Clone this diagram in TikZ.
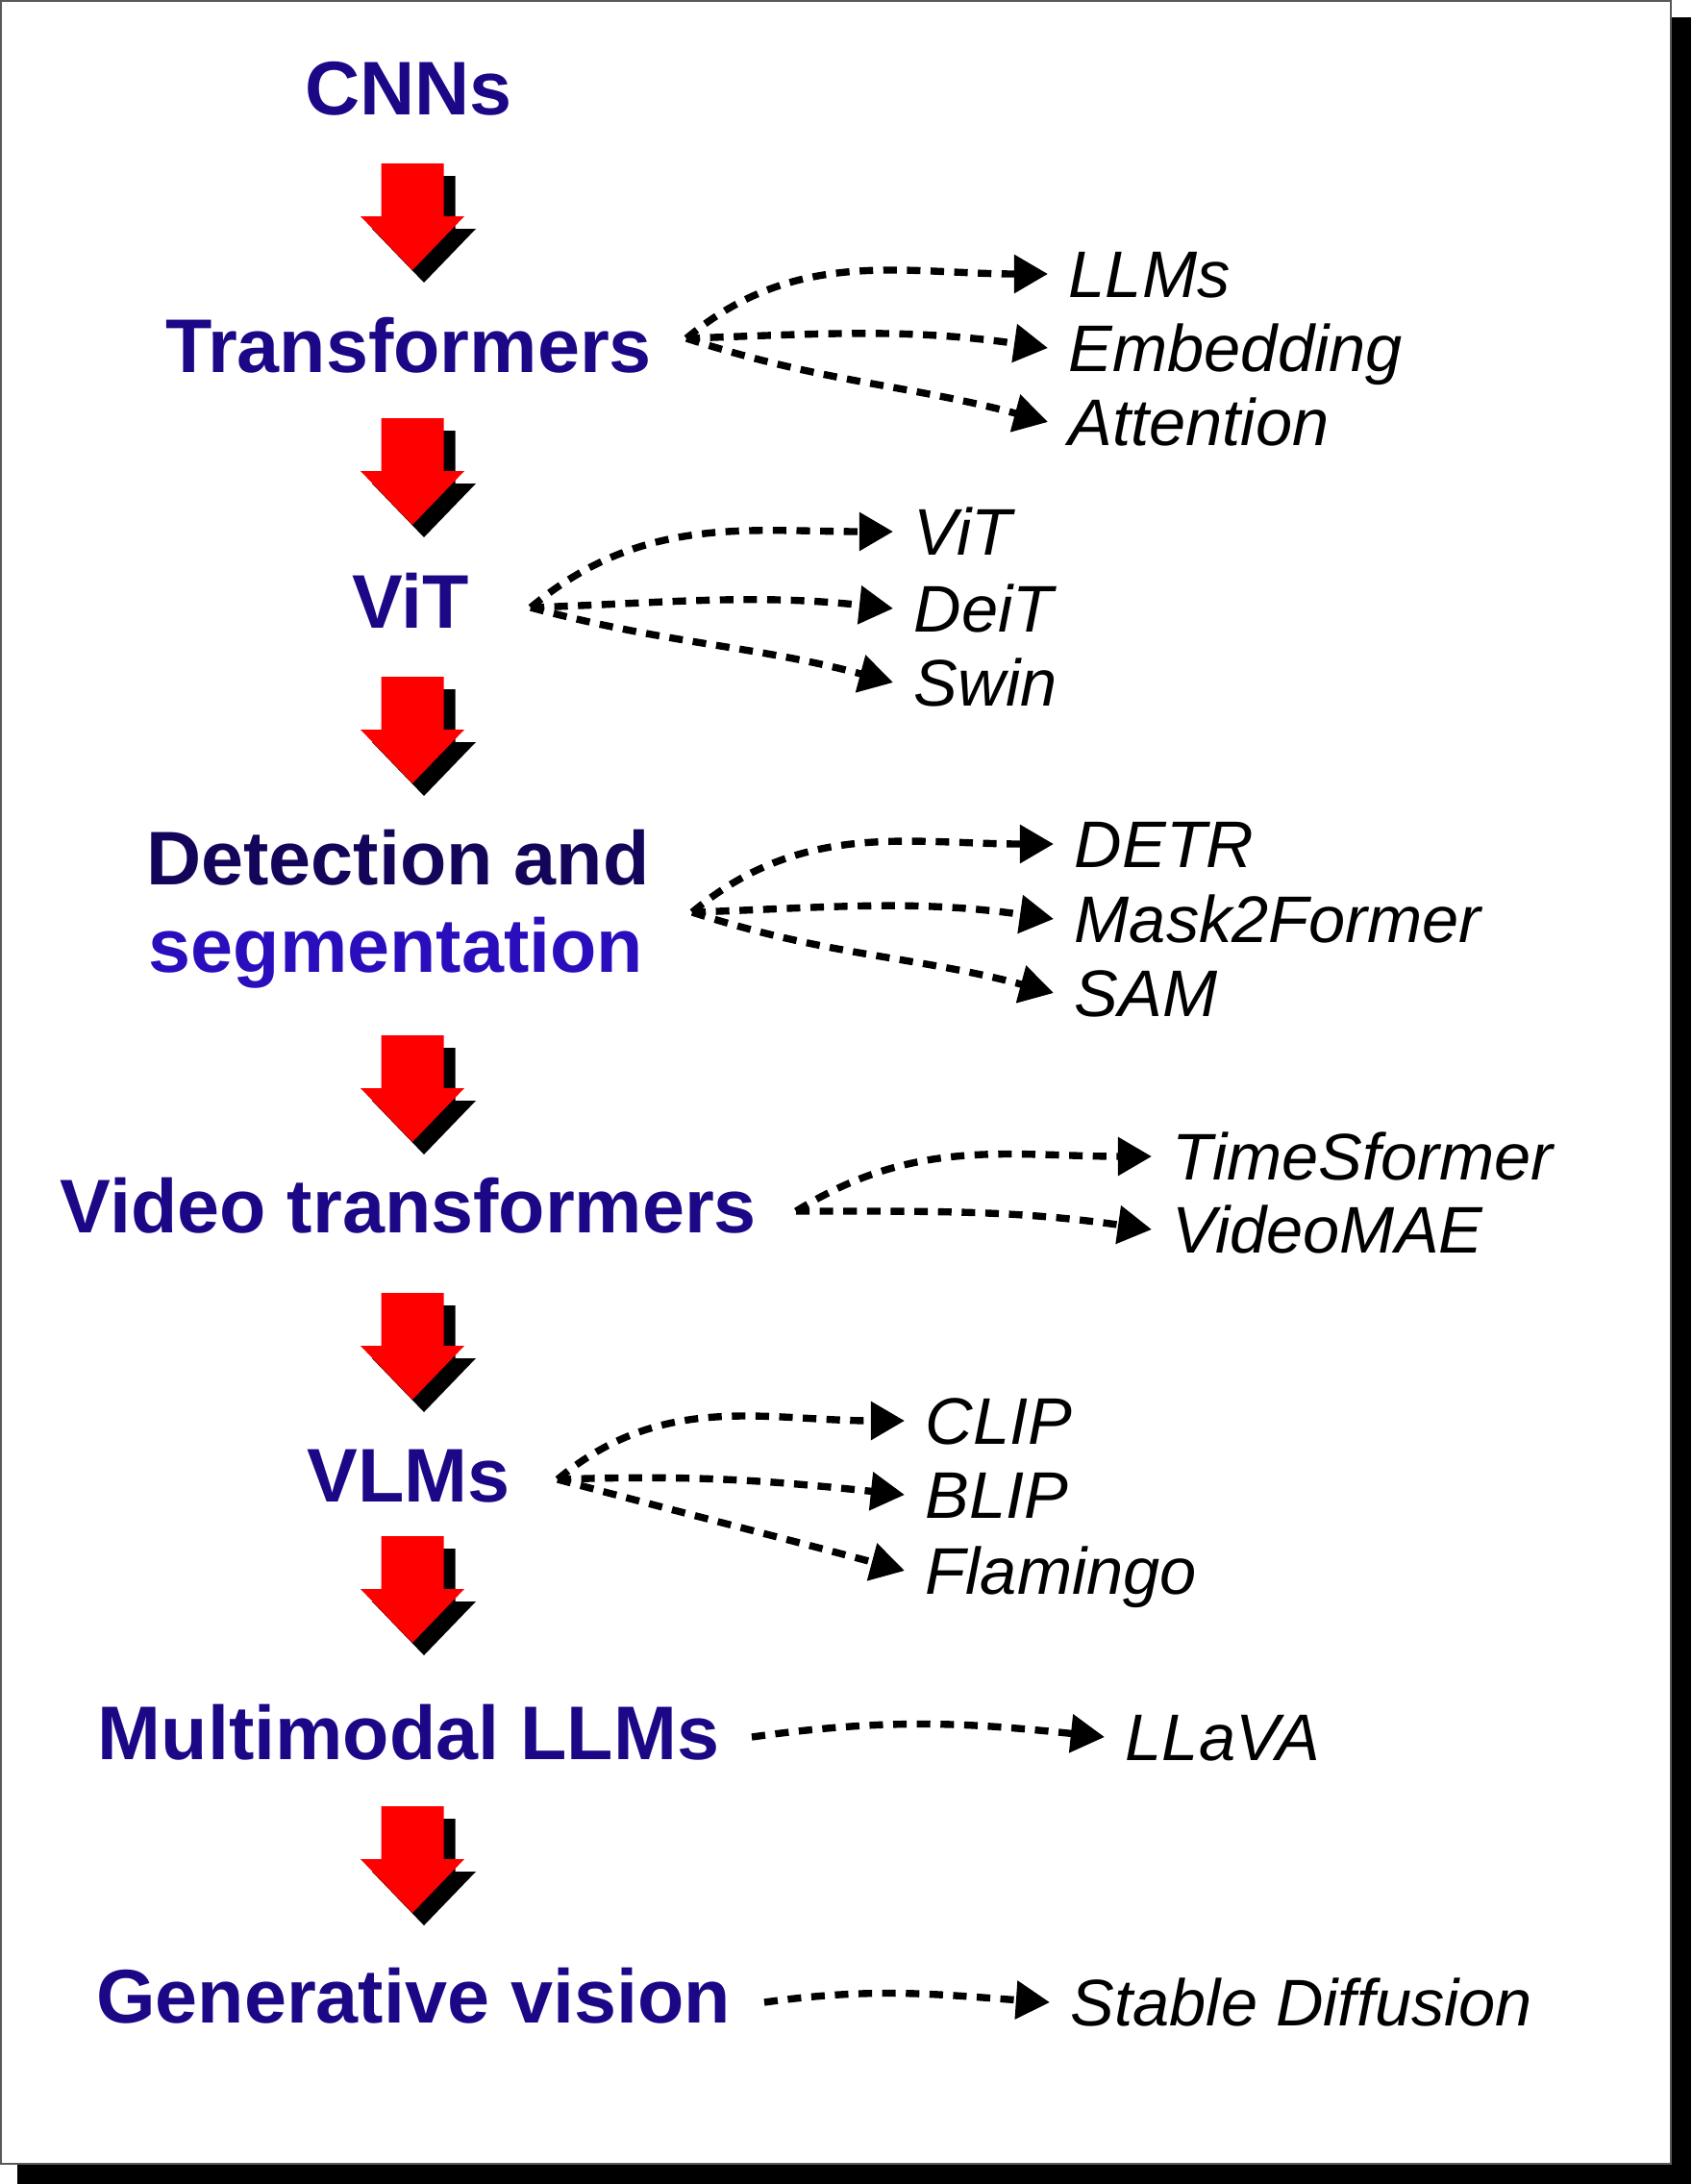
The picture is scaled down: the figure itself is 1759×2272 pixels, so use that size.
\documentclass[tikz,border=0pt]{standalone}
\usepackage{fontspec}
\setmainfont{Liberation Sans}
\usepackage{xcolor}
\definecolor{stageBlue}{RGB}{28,8,135}
\definecolor{stageDark}{RGB}{20,5,90}
\definecolor{stageBright}{RGB}{42,14,190}
\usepackage{tikz}
\usetikzlibrary{arrows.meta}
\tikzstyle{stage}=[anchor=base, text=stageBlue, font=\bfseries\fontsize{22.5}{26}\selectfont]
\tikzstyle{model}=[anchor=west, inner xsep=6pt, inner ysep=0pt, text height=14pt, text depth=0pt, font=\itshape\fontsize{19.5}{23}\selectfont]
\tikzstyle{linkarrow}=[-{Triangle[length=10pt,width=11pt]}, line width=2.1pt, dash pattern=on 4pt off 3pt]
\tikzstyle{blockarrow}=[fill=red]
\tikzstyle{blockshadow}=[fill=black]

\begin{document}
\begin{tikzpicture}[x=0.01cm, y=0.01cm]
        \useasboundingbox (0,0) rectangle (1759,-2272);
        % Rahmen mit Schatten
        \fill[black] (18,-18) rectangle (1759,-2272);
        \draw[fill=white, draw=gray!70!black, line width=0.8pt] (1,-1) rectangle (1738,-2251);

        % Stufen
        \node[stage] (cnn) at (425,-119) {CNNs};
        \node[stage] (trf) at (425,-387) {Transformers};
        \node[stage] (vit) at (427,-653) {ViT};
        \node[stage, text=stageDark] (det) at (414,-920) {Detection and};
        \node[stage, text=stageBright] (seg) at (412,-1011) {segmentation};
        \node[stage] (vid) at (425,-1282) {Video transformers};
        \node[stage] (vlm) at (425,-1562) {VLMs};
        \node[stage] (mllm) at (425,-1830) {Multimodal LLMs};
        \node[stage] (gen) at (430,-2104) {Generative vision};

        % rote Pfeile
        \foreach \t in {170,435,704,1077,1345,1598,1879}{
          \fill[blockshadow, shift={(441,-\t-13)}] (-32.5,0) -- (32.5,0) -- (32.5,-55) -- (54,-55) -- (0,-111) -- (-54,-55) -- (-32.5,-55) -- cycle;
          \fill[blockarrow, shift={(429,-\t)}] (-32.5,0) -- (32.5,0) -- (32.5,-55) -- (54,-55) -- (0,-111) -- (-54,-55) -- (-32.5,-55) -- cycle;
        }

        % Modelle
        \node[model] (llms) at (1090,-285) {LLMs};
        \node[model] (embed) at (1090,-362) {Embedding};
        \node[model] (attn) at (1090,-439) {Attention};
        \node[model] (vitm) at (929,-553) {ViT};
        \node[model] (deit) at (929,-633) {DeiT};
        \node[model] (swin) at (929,-710) {Swin};
        \node[model] (detr) at (1096,-878) {DETR};
        \node[model] (maskf) at (1096,-956) {Mask2Former};
        \node[model] (sam) at (1096,-1033) {SAM};
        \node[model] (tsf) at (1198,-1203) {TimeSformer};
        \node[model] (vmae) at (1198,-1279) {VideoMAE};
        \node[model] (clip) at (941,-1478) {CLIP};
        \node[model] (blip) at (941,-1555) {BLIP};
        \node[model] (flam) at (941,-1634) {Flamingo};
        \node[model] (llava) at (1149,-1807) {LLaVA};
        \node[model] (sdiff) at (1092,-2083) {Stable Diffusion};

        % Ausgangspunkte
        \coordinate (trfout) at (714,-352);
        \coordinate (vitout) at (552,-632);
        \coordinate (detout) at (720,-949);
        \coordinate (vidout) at (828,-1260);
        \coordinate (vlmout) at (580,-1539);
        \coordinate (mllmout) at (782,-1807);
        \coordinate (genout) at (795,-2083);

        \draw[linkarrow] (trfout) to[out=40, in=180] (llms.west);
        \draw[linkarrow] (trfout) to[out=2, in=172] (embed.west);
        \draw[linkarrow] (trfout) to[out=-18, in=165] (attn.west);

        \draw[linkarrow] (vitout) to[out=40, in=180] (vitm.west);
        \draw[linkarrow] (vitout) to[out=2, in=174] (deit.west);
        \draw[linkarrow] (vitout) to[out=-15, in=165] (swin.west);

        \draw[linkarrow] (detout) to[out=40, in=180] (detr.west);
        \draw[linkarrow] (detout) to[out=2, in=172] (maskf.west);
        \draw[linkarrow] (detout) to[out=-18, in=165] (sam.west);

        \draw[linkarrow] (vidout) to[out=32, in=180] (tsf.west);
        \draw[linkarrow] (vidout) to[out=0, in=172] (vmae.west);

        \draw[linkarrow] (vlmout) to[out=40, in=180] (clip.west);
        \draw[linkarrow] (vlmout) to[out=2, in=174] (blip.west);
        \draw[linkarrow] (vlmout) to[out=-15, in=165] (flam.west);

        \draw[linkarrow] (mllmout) to[out=8, in=174] (llava.west);
        \draw[linkarrow] (genout) to[out=8, in=176] (sdiff.west);
\end{tikzpicture}
\end{document}
